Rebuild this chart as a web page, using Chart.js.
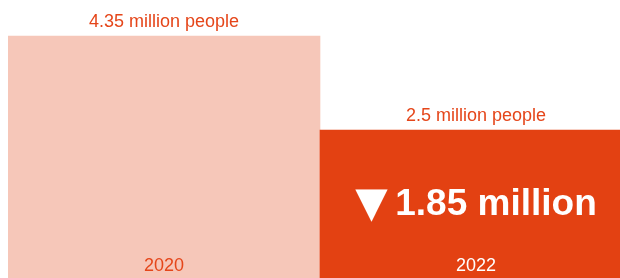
<!DOCTYPE html>
<html>
<head>
<meta charset="utf-8">
<script src="https://cdn.jsdelivr.net/npm/chart.js@4/dist/chart.umd.min.js"></script>
<style>
html,body{margin:0;padding:0;background:#fff;overflow:hidden;}
#wrap{width:620px;height:278px;position:relative;overflow:hidden;}
</style>
</head>
<body>
<div id="wrap"><canvas id="c" width="632" height="278"></canvas></div>
<script>
const categories = ["2020", "2022"];
const values = [4.35, 2.5];
const valueLabels = ["4.35 million people", "2.5 million people"];
const changeArrow = "\u25BC";
const changeLabel = "1.85 million";
const barColors = ["#f6c7b9", "#e34112"];
const yearColors = ["#e5461a", "#ffffff"];
const Y_MIN = -0.413, Y_MAX = 5.06;

const FONT = "'Liberation Sans', Arial, Helvetica, sans-serif";

const labelPlugin = {
  id: 'labels',
  afterDatasetsDraw(chart) {
    const ctx = chart.ctx;
    const meta = chart.getDatasetMeta(0);
    const area = chart.chartArea;
    ctx.save();
    meta.data.forEach((bar, i) => {
      ctx.textAlign = 'center';
      ctx.textBaseline = 'alphabetic';
      ctx.font = "18px " + FONT;
      ctx.fillStyle = "#e5461a";
      ctx.fillText(valueLabels[i], bar.x, bar.y - 9);
      ctx.fillStyle = yearColors[i];
      ctx.fillText(categories[i], bar.x, area.bottom - 7);
    });
    const b2 = meta.data[1];
    ctx.fillStyle = "#ffffff";
    ctx.textAlign = 'left';
    // number text
    ctx.font = "bold 37px " + FONT;
    const numW = ctx.measureText(changeLabel).width;
    // arrow sized to ~33px wide
    ctx.font = "bold 40px " + FONT;
    let m = ctx.measureText(changeArrow);
    let gw = m.actualBoundingBoxLeft + m.actualBoundingBoxRight;
    const size = 40 * 33 / gw;
    ctx.font = "bold " + size + "px " + FONT;
    m = ctx.measureText(changeArrow);
    gw = m.actualBoundingBoxLeft + m.actualBoundingBoxRight;
    const gap = 7;
    const total = gw + gap + numW;
    const x0 = b2.x - total / 2;
    ctx.fillText(changeArrow, x0 + m.actualBoundingBoxLeft, 189 + m.actualBoundingBoxAscent);
    ctx.font = "bold 37px " + FONT;
    ctx.fillText(changeLabel, x0 + gw + gap, 215);
    ctx.restore();
  }
};

new Chart(document.getElementById('c'), {
  type: 'bar',
  data: {
    labels: categories,
    datasets: [{
      data: values,
      backgroundColor: barColors,
      base: Y_MIN,
      borderWidth: 0,
      categoryPercentage: 1.0,
      barPercentage: 1.0
    }]
  },
  options: {
    responsive: false,
    animation: false,
    layout: { padding: { left: 8, right: 0, top: 0, bottom: 0 } },
    plugins: { legend: { display: false }, tooltip: { enabled: false } },
    scales: {
      x: { display: false },
      y: { display: false, min: Y_MIN, max: Y_MAX }
    }
  },
  plugins: [labelPlugin]
});
</script>
</body>
</html>
